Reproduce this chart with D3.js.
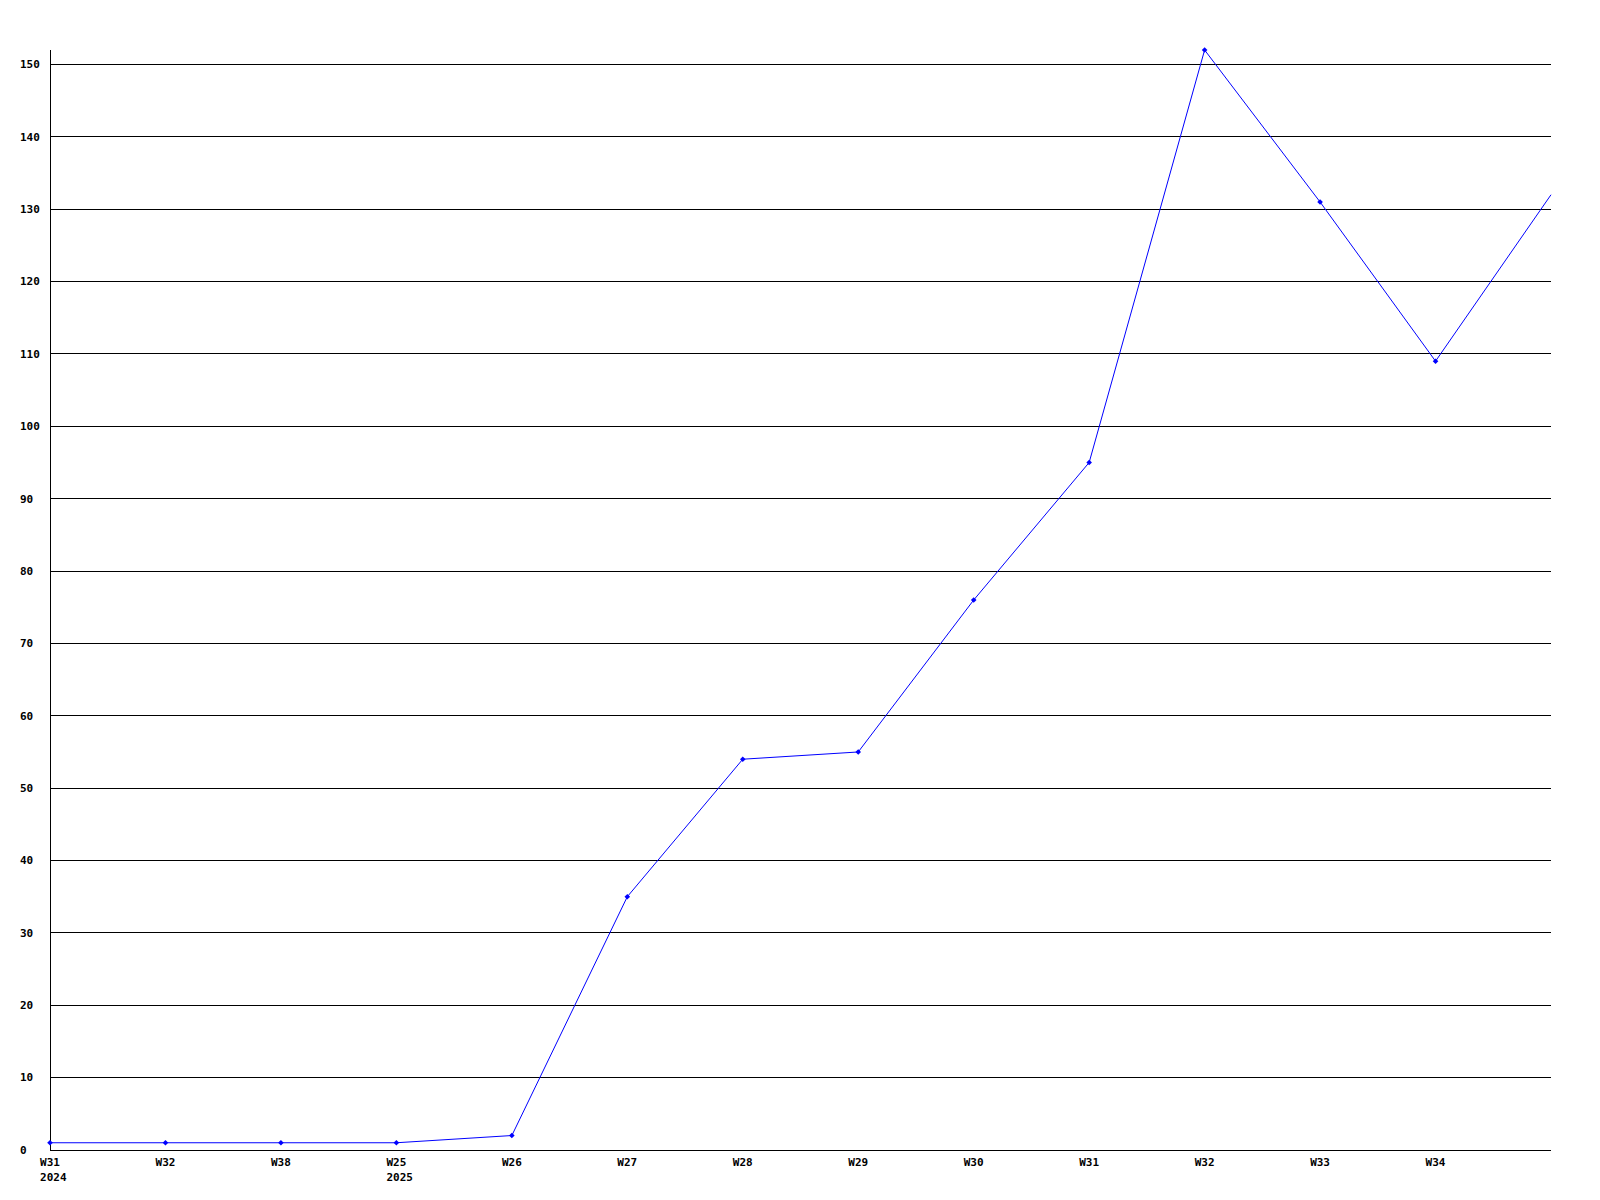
<!DOCTYPE html>
<html>
<head>
<meta charset="utf-8">
<script src="https://cdn.jsdelivr.net/npm/d3@7"></script>
<style>
  html, body { margin: 0; padding: 0; background: #fff; }
  svg { display: block; }
  text { font-family: "DejaVu Sans Mono", "Liberation Mono", monospace; font-weight: bold; font-size: 11px; fill: #000; }
</style>
</head>
<body>
<svg id="chart" width="1600" height="1200"></svg>
<script>
// ---- data ----
const weekLabels = ["W31", "W32", "W38", "W25", "W26", "W27", "W28", "W29", "W30", "W31", "W32", "W33", "W34", ""];
const yearLabels = ["2024", "", "", "2025", "", "", "", "", "", "", "", "", "", ""];
const values = [1, 1, 1, 1, 2, 35, 54, 55, 76, 95, 152, 131, 109, 132];
const yTicks = [0, 10, 20, 30, 40, 50, 60, 70, 80, 90, 100, 110, 120, 130, 140, 150];

// ---- layout ----
const plotLeft = 50, plotRight = 1551, plotTop = 50, plotBottom = 1150;
const svg = d3.select("#chart");

const x = d3.scaleLinear().domain([0, values.length - 1]).range([plotLeft, plotRight]);
const y = d3.scaleLinear().domain([0, d3.max(values)]).range([plotBottom, plotTop]);

const crisp = v => Math.floor(v) + 0.5;

// gridlines
svg.append("g").selectAll("line")
  .data(yTicks.filter(t => t > 0))
  .join("line")
  .attr("x1", plotLeft).attr("x2", plotRight)
  .attr("y1", d => crisp(y(d))).attr("y2", d => crisp(y(d)))
  .attr("stroke", "#000").attr("stroke-width", 1);

// axis lines
svg.append("line")
  .attr("x1", crisp(plotLeft)).attr("x2", crisp(plotLeft))
  .attr("y1", plotTop).attr("y2", crisp(plotBottom))
  .attr("stroke", "#000");
svg.append("line")
  .attr("x1", plotLeft).attr("x2", plotRight)
  .attr("y1", crisp(plotBottom)).attr("y2", crisp(plotBottom))
  .attr("stroke", "#000");

// y labels (left aligned)
svg.append("g").selectAll("text")
  .data(yTicks)
  .join("text")
  .attr("x", 20)
  .attr("y", d => y(d))
  .attr("dy", "0.35em")
  .attr("text-anchor", "start")
  .text(d => d);

// x labels
const xl = svg.append("g");
weekLabels.forEach((w, i) => {
  if (!w) return;
  const t = xl.append("text")
    .attr("x", x(i)).attr("y", 1162).attr("dy", "0.35em")
    .attr("text-anchor", "middle").text(w);
  if (yearLabels[i]) {
    const bb = t.node().getBBox();
    xl.append("text")
      .attr("x", bb.x).attr("y", 1177).attr("dy", "0.35em")
      .attr("text-anchor", "start").text(yearLabels[i]);
  }
});

// line
const line = d3.line().x((d, i) => x(i)).y(d => y(d));
svg.append("path")
  .datum(values)
  .attr("d", line)
  .attr("fill", "none")
  .attr("stroke", "#0000ff")
  .attr("stroke-width", 1);

// markers (small diamonds), all but the trailing one
svg.append("g").selectAll("path")
  .data(values.slice(0, weekLabels.filter(w => w).length))
  .join("path")
  .attr("d", (d, i) => {
    const cx = x(i), cy = y(d), r = 2.8;
    return `M${cx},${cy - r}L${cx + r},${cy}L${cx},${cy + r}L${cx - r},${cy}Z`;
  })
  .attr("fill", "#0000ff");
</script>
</body>
</html>
